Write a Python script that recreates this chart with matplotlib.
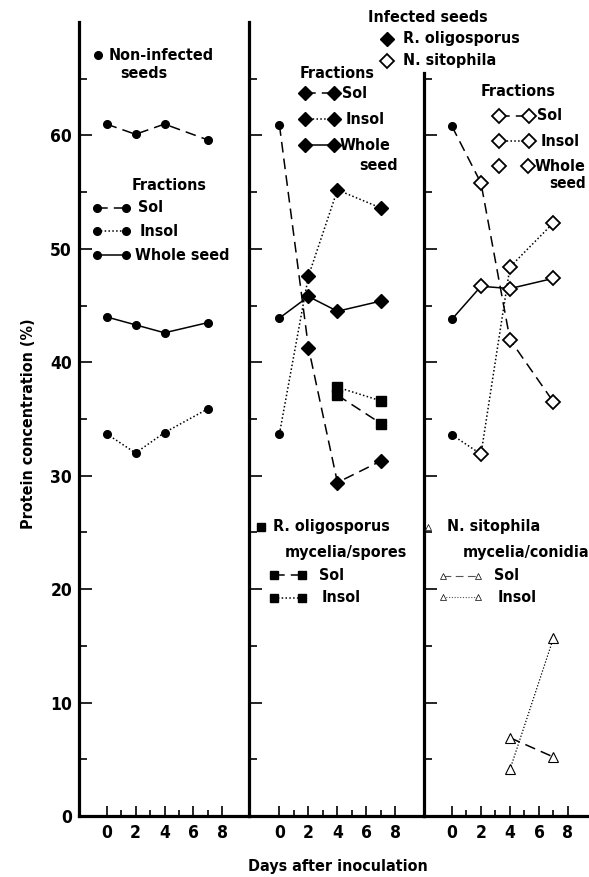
import matplotlib
matplotlib.use("Agg")
import matplotlib.pyplot as plt
from matplotlib.lines import Line2D
from matplotlib import font_manager

# ---------------- data ----------------
days = [0, 2, 4, 7]
days_myc = [4, 7]

non_sol = [61.0, 60.1, 61.0, 59.6]
non_insol = [33.7, 32.0, 33.8, 35.9]
non_whole = [44.0, 43.3, 42.6, 43.5]

ro_sol = [60.9, 41.3, 29.4, 31.3]
ro_insol = [33.7, 47.6, 55.2, 53.6]
ro_whole = [43.9, 45.8, 44.5, 45.4]

ns_sol = [60.8, 55.8, 42.0, 36.5]
ns_insol = [33.6, 31.9, 48.4, 52.3]
ns_whole = [43.8, 46.7, 46.5, 47.4]

ro_myc_sol = [37.1, 34.6]
ro_myc_insol = [37.8, 36.6]
ns_myc_sol = [6.9, 5.2]
ns_myc_insol = [4.1, 15.7]

x_ticks = [0, 2, 4, 6, 8]
y_ticks = [0, 10, 20, 30, 40, 50, 60]

# ---------------- style ----------------
names = {f.name for f in font_manager.fontManager.ttflist}
if "Liberation Sans Narrow" in names:
    FAM = ["Liberation Sans Narrow", "DejaVu Sans"]
    STRETCH = "normal"
else:
    FAM = ["DejaVu Sans"]
    STRETCH = "condensed"
plt.rcParams["font.family"] = FAM
plt.rcParams["font.weight"] = "bold"

W, H = 589, 877
fig = plt.figure(figsize=(W / 100, H / 100), dpi=100)

FS = 11.5
TFS = 12.5
LW = 1.1
DASH = (0, (7, 4))
DOT = (0, (1, 1.5))


def px(x, y):
    return x / W, 1 - y / H


def T(x, y, s, size=FS, **kw):
    fx, fy = px(x, y)
    fig.text(fx, fy, s, fontsize=size, fontweight="bold", ha=kw.pop("ha", "left"),
             va=kw.pop("va", "center"), fontstretch=STRETCH, **kw)


def sample(x0, x1, y, ls, marker, mfc="black", ms=6, mew=1.0, mec="black", color="black", lw=LW):
    fx0, fy = px(x0, y)
    fx1, _ = px(x1, y)
    fig.add_artist(Line2D([fx0, fx1], [fy, fy], transform=fig.transFigure, color=color,
                          linestyle=ls, linewidth=lw, marker=marker, markersize=ms,
                          markerfacecolor=mfc, markeredgecolor=mec, markeredgewidth=mew))


def mark(x, y, marker, mfc="black", ms=6, mew=1.0, mec="black"):
    fx, fy = px(x, y)
    fig.add_artist(Line2D([fx], [fy], transform=fig.transFigure, linestyle="none",
                          marker=marker, markersize=ms, markerfacecolor=mfc,
                          markeredgecolor=mec, markeredgewidth=mew))


axes_px = [(79, 249, -1.9, 9.83), (249, 424, -2.1, 9.97), (424, 589, -1.93, 9.45)]
axs = []
for i, (l, r, x0, x1) in enumerate(axes_px):
    ax = fig.add_axes([l / W, (H - 816) / H, (r - l) / W, (816 - 22) / H])
    ax.set_xlim(x0, x1)
    ax.set_ylim(0, 70)
    for s in ["top", "right"]:
        ax.spines[s].set_visible(False)
    ax.spines["left"].set_linewidth(2.3)
    ax.spines["bottom"].set_linewidth(2.3)
    if i == 2:
        ax.spines["left"].set_bounds(0, 65.5)
    ax.set_xticks(x_ticks)
    ax.set_xticks([1, 3, 5, 7], minor=True)
    ax.tick_params(axis="x", which="major", direction="in", length=7, width=1.2, pad=6,
                   labelsize=TFS)
    ax.tick_params(axis="x", which="minor", direction="in", length=4, width=1.2)
    ax.set_yticks([5, 15, 25, 35, 45, 55, 65], minor=True)
    ax.set_yticks(y_ticks)
    ax.tick_params(axis="y", which="major", direction="in", length=9, width=1.2, pad=5,
                   labelsize=TFS)
    ax.tick_params(axis="y", which="minor", direction="in", length=6, width=1.2)
    if i > 0:
        ax.set_yticklabels([])
    for lab in ax.get_xticklabels() + ax.get_yticklabels():
        lab.set_fontweight("bold")
        lab.set_fontstretch(STRETCH)
    ax.patch.set_alpha(0)
    axs.append(ax)

ax1, ax2, ax3 = axs

# ---- panel 1: non-infected
ax1.plot(days, non_sol, color="black", lw=LW, ls=DASH, marker="o", ms=5.5)
ax1.plot(days, non_insol, color="black", lw=LW, ls=DOT, marker="o", ms=5.5)
ax1.plot(days, non_whole, color="black", lw=LW, ls="-", marker="o", ms=5.5)

# ---- panel 2: R. oligosporus
for vals, ls in [(ro_sol, DASH), (ro_insol, DOT), (ro_whole, "-")]:
    ax2.plot(days, vals, color="black", lw=LW, ls=ls)
    ax2.plot(days[:1], vals[:1], ls="none", marker="o", ms=5.5, color="black")
    ax2.plot(days[1:], vals[1:], ls="none", marker="D", ms=7, color="black")
ax2.plot(days_myc, ro_myc_sol, color="black", lw=LW, ls=DASH, marker="s", ms=6.5)
ax2.plot(days_myc, ro_myc_insol, color="black", lw=LW, ls=DOT, marker="s", ms=6.5)

# ---- panel 3: N. sitophila
for vals, ls in [(ns_sol, DASH), (ns_insol, DOT), (ns_whole, "-")]:
    ax3.plot(days, vals, color="black", lw=LW, ls=ls)
    ax3.plot(days[:1], vals[:1], ls="none", marker="o", ms=5.5, color="black")
    ax3.plot(days[1:], vals[1:], ls="none", marker="D", ms=7.5, mfc="white",
             mec="black", mew=1.3)
ax3.plot(days_myc, ns_myc_sol, color="black", lw=LW, ls=DASH, marker="^", ms=7,
         mfc="white", mec="black", mew=0.8)
ax3.plot(days_myc, ns_myc_insol, color="black", lw=0.9, ls=DOT, marker="^", ms=7,
         mfc="white", mec="black", mew=0.8)

# ---------------- annotations ----------------
# panel 1
mark(98, 55, "o", ms=5.5)
T(109, 55, "Non-infected")
T(120, 73, "seeds")
T(132, 186, "Fractions")
sample(97, 126, 208, DASH, "o", ms=5.5)
T(138, 208, "Sol")
sample(97, 126, 231, DOT, "o", ms=5.5)
T(140, 231, "Insol")
sample(97, 126, 255, "-", "o", ms=5.5)
T(135, 255, "Whole seed")

# panel 2 top
T(368, 17, "Infected seeds")
mark(387, 39, "D", ms=7)
T(403, 39, "R. oligosporus")
mark(387, 61, "D", mfc="white", ms=7, mew=1.3)
T(403, 61, "N. sitophila")
T(300, 74, "Fractions")
sample(305, 334, 93, DASH, "D", ms=7)
T(342, 93, "Sol")
sample(305, 334, 119, DOT, "D", ms=7)
T(346, 119, "Insol")
sample(305, 334, 145, "-", "D", ms=7)
T(340, 145, "Whole")
T(359, 165, "seed")

# panel 3 top
T(481, 92, "Fractions")
sample(499, 529, 116, DASH, "D", mfc="white", ms=7, mew=1.3)
T(537, 116, "Sol")
sample(499, 529, 141, DOT, "D", mfc="white", ms=7, mew=1.3)
T(541, 141, "Insol")
mark(499, 166, "D", mfc="white", ms=7, mew=1.3)
mark(528, 166, "D", mfc="white", ms=7, mew=1.3)
T(535, 166, "Whole")
T(549, 183, "seed", size=11)

# panel 2 bottom
mark(261, 527, "s", ms=5.5)
T(273, 527, "R. oligosporus")
T(285, 552, "mycelia/spores")
sample(274, 302, 575, DASH, "s", ms=5.5)
T(319, 575, "Sol")
sample(274, 302, 598, DOT, "s", ms=5.5)
T(322, 598, "Insol")

# panel 3 bottom
mark(428, 527, "^", mfc="white", ms=5, mew=0.5)
T(447, 527, "N. sitophila")
T(463, 552, "mycelia/conidia")
sample(443, 478, 576, DASH, "^", mfc="white", ms=5, mew=0.5, lw=0.8, color="#555555")
T(494, 576, "Sol")
sample(443, 478, 597, DOT, "^", mfc="white", ms=5, mew=0.5, lw=0.8, color="#555555")
T(498, 597, "Insol")

# axis titles
T(29, 424, "Protein concentration (%)", ha="center", rotation=90)
T(338, 866, "Days after inoculation", ha="center")

fig.savefig("out.png", dpi=100)
